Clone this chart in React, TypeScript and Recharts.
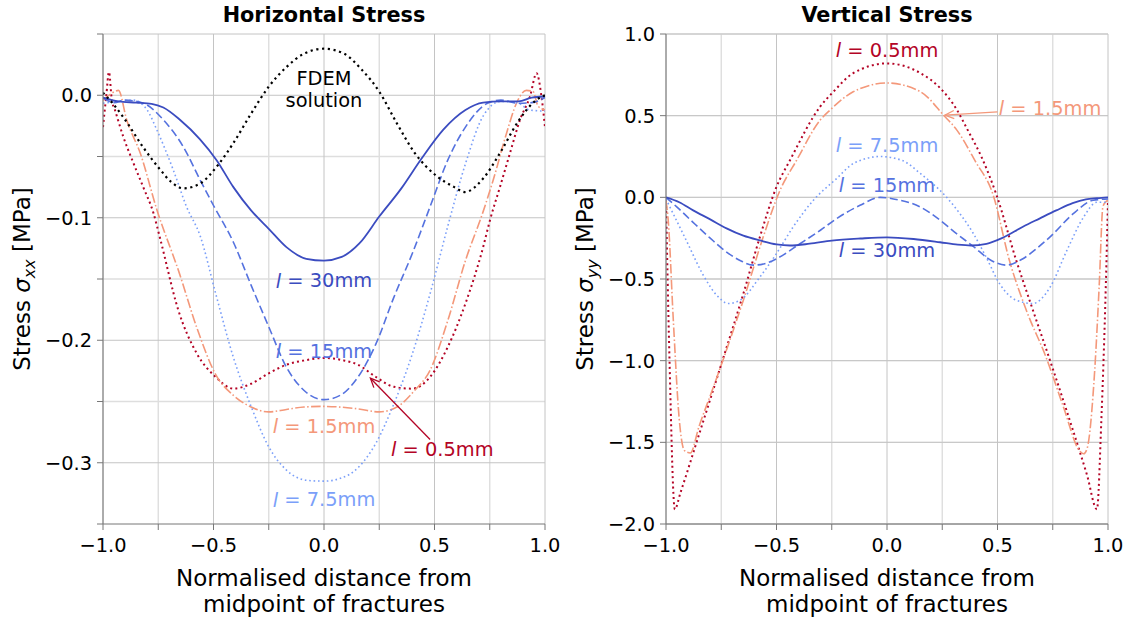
import React from 'react';
import { LineChart, Line, XAxis, YAxis, CartesianGrid, ReferenceDot, ReferenceLine } from 'recharts';

const FONT = '"DejaVu Sans", Verdana, sans-serif';

// axis ticks
const X_TICKS = [-1, -0.75, -0.5, -0.25, 0, 0.25, 0.5, 0.75, 1];
const X_MAJOR = [-1, -0.5, 0, 0.5, 1];
const X_MINOR = [-0.75, -0.25, 0.25, 0.75];
const H_Y_TICKS = [-0.35, -0.3, -0.25, -0.2, -0.15, -0.1, -0.05, 0, 0.05];
const H_Y_MAJOR = [-0.3, -0.2, -0.1, 0, 0.05];
const H_Y_MINOR = [-0.25, -0.15, -0.05];
const V_Y_TICKS = [-2, -1.5, -1, -0.5, 0, 0.5, 1];

// Horizontal stress (sigma_xx)
const hX30 = [-1, -0.93, -0.85, -0.78, -0.727, -0.652, -0.561, -0.486, -0.41, -0.33, -0.25, -0.17, -0.08, 0, 0.08, 0.16, 0.25, 0.35, 0.44, 0.54, 0.64, 0.72, 0.8, 0.88, 0.94, 1];
const hY30 = [-0.002, -0.005, -0.006, -0.007, -0.01, -0.02, -0.036, -0.053, -0.075, -0.094, -0.109, -0.124, -0.1335, -0.135, -0.132, -0.121, -0.099, -0.076, -0.052, -0.028, -0.012, -0.006, -0.005, -0.005, -0.002, -0.001];

const hX15 = [-1, -0.95, -0.9, -0.818, -0.727, -0.637, -0.561, -0.5, -0.41, -0.33, -0.25, -0.17, -0.09, 0, 0.073, 0.154, 0.235, 0.316, 0.4, 0.48, 0.56, 0.64, 0.74, 0.8, 0.88, 0.94, 1];
const hY15 = [-0.002, -0.006, -0.004, -0.0065, -0.02, -0.042, -0.069, -0.09, -0.12, -0.155, -0.189, -0.222, -0.241, -0.2485, -0.245, -0.23, -0.203, -0.165, -0.129, -0.091, -0.053, -0.026, -0.0065, -0.004, -0.0065, -0.006, -0.002];

const hX7 = [-1, -0.93, -0.863, -0.8, -0.757, -0.682, -0.622, -0.56, -0.49, -0.41, -0.33, -0.25, -0.17, -0.07, 0, 0.07, 0.154, 0.235, 0.316, 0.4, 0.48, 0.56, 0.64, 0.72, 0.8, 0.88, 0.93, 1];
const hY7 = [-0.0065, -0.005, -0.004, -0.012, -0.028, -0.061, -0.091, -0.115, -0.162, -0.214, -0.254, -0.287, -0.306, -0.3145, -0.315, -0.313, -0.304, -0.284, -0.252, -0.211, -0.162, -0.107, -0.056, -0.017, -0.005, -0.0065, -0.012, -0.013];

const hX1 = [-1, -0.965, -0.93, -0.893, -0.83, -0.757, -0.655, -0.575, -0.49, -0.41, -0.33, -0.25, -0.17, -0.09, 0, 0.154, 0.25, 0.33, 0.41, 0.48, 0.56, 0.64, 0.72, 0.766, 0.826, 0.871, 0.916, 0.946, 0.969, 1];
const hY1 = [-0.004, 0.001, 0.004, -0.02, -0.048, -0.093, -0.145, -0.19, -0.228, -0.245, -0.2545, -0.2585, -0.2565, -0.2545, -0.254, -0.256, -0.2585, -0.2545, -0.241, -0.2245, -0.184, -0.135, -0.095, -0.069, -0.031, -0.0065, 0.004, 0.003, -0.009, -0.012];

const hX05 = [-1, -0.985, -0.973, -0.96, -0.946, -0.908, -0.863, -0.818, -0.772, -0.74, -0.66, -0.575, -0.49, -0.41, -0.33, -0.25, -0.17, -0.09, 0, 0.09, 0.154, 0.235, 0.316, 0.4, 0.48, 0.56, 0.64, 0.72, 0.751, 0.796, 0.842, 0.887, 0.932, 0.962, 0.984, 1];
const hY05 = [-0.026, 0.0, 0.019, -0.004, -0.012, -0.034, -0.055, -0.075, -0.096, -0.118, -0.175, -0.211, -0.23, -0.2395, -0.2355, -0.227, -0.22, -0.2165, -0.2145, -0.2165, -0.22, -0.23, -0.238, -0.2395, -0.23, -0.2055, -0.17, -0.124, -0.102, -0.075, -0.047, -0.02, -0.001, 0.018, -0.001, -0.026];

const hXF = [-1, -0.95, -0.9, -0.82, -0.74, -0.69, -0.637, -0.56, -0.48, -0.41, -0.33, -0.25, -0.17, -0.09, 0, 0.09, 0.17, 0.25, 0.33, 0.41, 0.51, 0.59, 0.638, 0.72, 0.8, 0.88, 0.96, 1];
const hYF = [0.002, -0.008, -0.02, -0.042, -0.061, -0.071, -0.076, -0.072, -0.057, -0.039, -0.015, 0.007, 0.023, 0.034, 0.038, 0.034, 0.021, 0.003, -0.023, -0.047, -0.066, -0.075, -0.079, -0.068, -0.046, -0.021, -0.004, 0.0];

// Vertical stress (sigma_yy)
const vX30 = [-1, -0.94, -0.877, -0.8, -0.726, -0.65, -0.575, -0.5, -0.44, -0.35, -0.25, -0.12, 0, 0.12, 0.24, 0.32, 0.38, 0.45, 0.52, 0.615, 0.69, 0.766, 0.84, 0.9, 0.95, 1];
const vY30 = [0, -0.03, -0.08, -0.135, -0.19, -0.235, -0.264, -0.288, -0.295, -0.284, -0.265, -0.252, -0.245, -0.255, -0.275, -0.29, -0.295, -0.285, -0.25, -0.18, -0.13, -0.08, -0.035, -0.012, -0.005, 0];

const vX15 = [-1, -0.95, -0.88, -0.8, -0.726, -0.66, -0.605, -0.55, -0.5, -0.394, -0.3, -0.228, -0.122, -0.03, 0.05, 0.152, 0.24, 0.303, 0.39, 0.47, 0.54, 0.615, 0.68, 0.738, 0.843, 0.933, 1];
const vY15 = [0, -0.06, -0.15, -0.25, -0.335, -0.39, -0.415, -0.405, -0.376, -0.284, -0.2, -0.13, -0.049, 0.0, -0.015, -0.06, -0.14, -0.21, -0.3, -0.385, -0.415, -0.376, -0.31, -0.242, -0.1, -0.018, -0.01];

const vX7 = [-1, -0.982, -0.906, -0.83, -0.77, -0.718, -0.665, -0.575, -0.5, -0.424, -0.333, -0.228, -0.152, -0.03, 0.07, 0.152, 0.27, 0.33, 0.39, 0.45, 0.51, 0.585, 0.66, 0.738, 0.814, 0.89, 0.95, 1];
const vY7 = [-0.01, -0.06, -0.27, -0.48, -0.6, -0.65, -0.63, -0.488, -0.344, -0.18, -0.018, 0.115, 0.207, 0.25, 0.225, 0.145, 0.0, -0.1, -0.22, -0.37, -0.53, -0.63, -0.65, -0.55, -0.325, -0.12, -0.03, -0.03];

const vX1 = [-1, -0.99, -0.967, -0.94, -0.917, -0.89, -0.85, -0.785, -0.72, -0.65, -0.56, -0.484, -0.409, -0.303, -0.258, -0.153, 0, 0.152, 0.256, 0.317, 0.4, 0.479, 0.554, 0.63, 0.72, 0.8, 0.87, 0.89, 0.905, 0.94, 0.96, 0.977, 0.99, 1];
const vY1 = [-0.02, -0.14, -0.75, -1.36, -1.55, -1.565, -1.4, -1.16, -0.91, -0.63, -0.242, 0.043, 0.227, 0.472, 0.534, 0.646, 0.7, 0.646, 0.503, 0.41, 0.22, 0.02, -0.387, -0.69, -0.98, -1.29, -1.55, -1.57, -1.54, -1.056, -0.547, -0.057, -0.027, -0.02];

const vX05 = [-1, -0.985, -0.96, -0.935, -0.85, -0.74, -0.65, -0.575, -0.5, -0.439, -0.303, -0.243, -0.153, 0, 0.152, 0.242, 0.317, 0.362, 0.43, 0.494, 0.585, 0.66, 0.738, 0.84, 0.905, 0.95, 0.97, 0.99, 1];
const vY05 = [-0.02, -0.95, -1.91, -1.81, -1.45, -0.98, -0.59, -0.242, 0.064, 0.227, 0.554, 0.646, 0.76, 0.82, 0.76, 0.667, 0.534, 0.42, 0.24, 0.02, -0.387, -0.69, -1.0, -1.42, -1.7, -1.91, -1.36, -0.547, -0.02];

const C30 = '#3b4cc0';
const C15 = '#5572df';
const C7 = '#7b9ff9';
const C1 = '#f4987a';
const C05 = '#b40426';

const zip = (xs: number[], ys: number[]) => xs.map((x, i) => ({ x, y: ys[i] }));

const STYLE: Record<string, { color: string; dash?: string; width: number }> = {
  '0.5': { color: C05, dash: '2 3.2', width: 2 },
  '1.5': { color: C1, dash: '9.6 2.4 1.5 2.4', width: 1.6 },
  '7.5': { color: C7, dash: '1.6 2.8', width: 1.6 },
  '15': { color: C15, dash: '8 3.6', width: 1.6 },
  '30': { color: C30, width: 1.8 },
  FDEM: { color: '#000000', dash: '2.2 3.6', width: 2.2 },
};

const H_SERIES = [
  { name: '0.5', data: zip(hX05, hY05) },
  { name: '1.5', data: zip(hX1, hY1) },
  { name: '7.5', data: zip(hX7, hY7) },
  { name: '15', data: zip(hX15, hY15) },
  { name: '30', data: zip(hX30, hY30) },
  { name: 'FDEM', data: zip(hXF, hYF) },
];
const V_SERIES = [
  { name: '0.5', data: zip(vX05, vY05) },
  { name: '1.5', data: zip(vX1, vY1) },
  { name: '7.5', data: zip(vX7, vY7) },
  { name: '15', data: zip(vX15, vY15) },
  { name: '30', data: zip(vX30, vY30) },
];

const minus = (v: number, digits = 1) => (v < -1e-9 ? '\u2212' : '') + Math.abs(v).toFixed(digits);
const isMult = (v: number, step: number) => Math.abs(v / step - Math.round(v / step)) < 1e-6;

const TICK = { fill: '#000', fontSize: 19.4, fontFamily: FONT };

const lLabel = (text: string, color: string) => (p: any) => (
  <text x={p.cx} y={p.cy} textAnchor="middle" dominantBaseline="central" fill={color} fontSize={19.4} fontFamily={FONT}>
    <tspan fontStyle="italic">l</tspan>
    {' = ' + text}
  </text>
);

const plainLabel = (lines: string[], color: string) => (p: any) => (
  <text x={p.cx} y={p.cy} textAnchor="middle" fill={color} fontSize={19.4} fontFamily={FONT}>
    {lines.map((s, i) => (
      <tspan key={i} x={p.cx} dy={i === 0 ? 0 : 22}>{s}</tspan>
    ))}
  </text>
);

const arrow = (color: string) => (p: any) => {
  const { x1, y1, x2, y2 } = p;
  const a = Math.atan2(y2 - y1, x2 - x1);
  const L = 10;
  const w = 0.42;
  const pa = `${x2 - L * Math.cos(a - w)},${y2 - L * Math.sin(a - w)} ${x2},${y2} ${x2 - L * Math.cos(a + w)},${y2 - L * Math.sin(a + w)}`;
  return (
    <g>
      <line x1={x1} y1={y1} x2={x2} y2={y2} stroke={color} strokeWidth={1.3} />
      <polyline points={pa} fill="none" stroke={color} strokeWidth={1.3} />
    </g>
  );
};

function Panel({ series, yTicks, yDomain, yFmt, yMajor, yMinor, yAxisWidth, width, rightMargin, children }: any) {
  return (
    <LineChart width={width} height={620} margin={{ top: 34, right: rightMargin, bottom: 0, left: 0 }}>
      <CartesianGrid horizontalValues={yMinor} verticalValues={X_MINOR} stroke="#dedede" strokeWidth={1.4} />
      <CartesianGrid horizontalValues={yMajor} verticalValues={X_MAJOR} stroke="#c4c4c4" strokeWidth={1} />
      <XAxis
        type="number"
        dataKey="x"
        domain={[-1, 1]}
        ticks={X_TICKS}
        interval={0}
        allowDataOverflow
        height={96}
        tickSize={6}
        tickMargin={8}
        tick={TICK}
        stroke="#777"
        tickFormatter={(v: number) => (isMult(v, 0.5) ? minus(v) : '')}
      />
      <YAxis
        type="number"
        dataKey="y"
        domain={yDomain}
        ticks={yTicks}
        interval={0}
        allowDataOverflow
        width={yAxisWidth}
        tickSize={6}
        tickMargin={5}
        tick={TICK}
        stroke="#777"
        tickFormatter={yFmt}
      />
      {series.map((s: any) => {
        const st = STYLE[s.name];
        return (
          <Line
            key={s.name}
            data={s.data}
            dataKey="y"
            type="monotone"
            stroke={st.color}
            strokeWidth={st.width}
            strokeDasharray={st.dash}
            dot={false}
            activeDot={false}
            isAnimationActive={false}
          />
        );
      })}
      {children}
    </LineChart>
  );
}

export default function App() {
  return (
    <div style={{ position: 'absolute', left: 0, top: 0, width: 1134, height: 620, background: '#fff', fontFamily: FONT }}>
      <div style={{ position: 'absolute', left: 0, top: 0 }}>
        <Panel
          series={H_SERIES}
          yTicks={H_Y_TICKS}
          yDomain={[-0.35, 0.05]}
          yMajor={H_Y_MAJOR}
          yMinor={H_Y_MINOR}
          yAxisWidth={103}
          width={560}
          rightMargin={15}
          yFmt={(v: number) => (isMult(v, 0.1) ? minus(v) : '')}
        >
          <ReferenceDot x={0} y={0.0084} r={0} shape={plainLabel(['FDEM', 'solution'], '#000')} />
          <ReferenceDot x={0} y={-0.1515} r={0} shape={lLabel('30mm', C30)} />
          <ReferenceDot x={0} y={-0.209} r={0} shape={lLabel('15mm', C15)} />
          <ReferenceDot x={0} y={-0.27} r={0} shape={lLabel('1.5mm', C1)} />
          <ReferenceDot x={0} y={-0.33} r={0} shape={lLabel('7.5mm', C7)} />
          <ReferenceDot x={0.535} y={-0.289} r={0} shape={lLabel('0.5mm', C05)} />
          <ReferenceLine segment={[{ x: 0.48, y: -0.281 }, { x: 0.21, y: -0.231 }]} shape={arrow(C05)} />
        </Panel>
      </div>
      <div style={{ position: 'absolute', left: 560, top: 0 }}>
        <Panel
          series={V_SERIES}
          yTicks={V_Y_TICKS}
          yDomain={[-2, 1]}
          yMajor={V_Y_TICKS}
          yMinor={[]}
          yAxisWidth={106}
          width={574}
          rightMargin={26}
          yFmt={(v: number) => minus(v)}
        >
          <ReferenceDot x={0} y={0.9} r={0} shape={lLabel('0.5mm', C05)} />
          <ReferenceDot x={0.738} y={0.546} r={0} shape={lLabel('1.5mm', C1)} />
          <ReferenceDot x={0} y={0.319} r={0} shape={lLabel('7.5mm', C7)} />
          <ReferenceDot x={0} y={0.074} r={0} shape={lLabel('15mm', C15)} />
          <ReferenceDot x={0} y={-0.325} r={0} shape={lLabel('30mm', C30)} />
          <ReferenceLine segment={[{ x: 0.5, y: 0.523 }, { x: 0.262, y: 0.503 }]} shape={arrow(C1)} />
        </Panel>
      </div>
      <svg width={1134} height={620} style={{ position: 'absolute', left: 0, top: 0, pointerEvents: 'none' }} fontFamily={FONT}>
        <text x={324} y={21.5} textAnchor="middle" fontWeight="bold" fontSize={20.8}>Horizontal Stress</text>
        <text x={887} y={21.5} textAnchor="middle" fontWeight="bold" fontSize={20.8}>Vertical Stress</text>
        <text x={324} y={586} textAnchor="middle" fontSize={23}>Normalised distance from</text>
        <text x={324} y={612} textAnchor="middle" fontSize={23}>midpoint of fractures</text>
        <text x={887} y={586} textAnchor="middle" fontSize={23}>Normalised distance from</text>
        <text x={887} y={612} textAnchor="middle" fontSize={23}>midpoint of fractures</text>
        <text transform="translate(30,279) rotate(-90)" textAnchor="middle" fontSize={23}>
          Stress <tspan fontStyle="italic">σ</tspan>
          <tspan fontStyle="italic" fontSize={16} dy={5}>xx</tspan>
          <tspan dy={-5}> [MPa]</tspan>
        </text>
        <text transform="translate(593,279) rotate(-90)" textAnchor="middle" fontSize={23}>
          Stress <tspan fontStyle="italic">σ</tspan>
          <tspan fontStyle="italic" fontSize={16} dy={5}>yy</tspan>
          <tspan dy={-5}> [MPa]</tspan>
        </text>
      </svg>
    </div>
  );
}
